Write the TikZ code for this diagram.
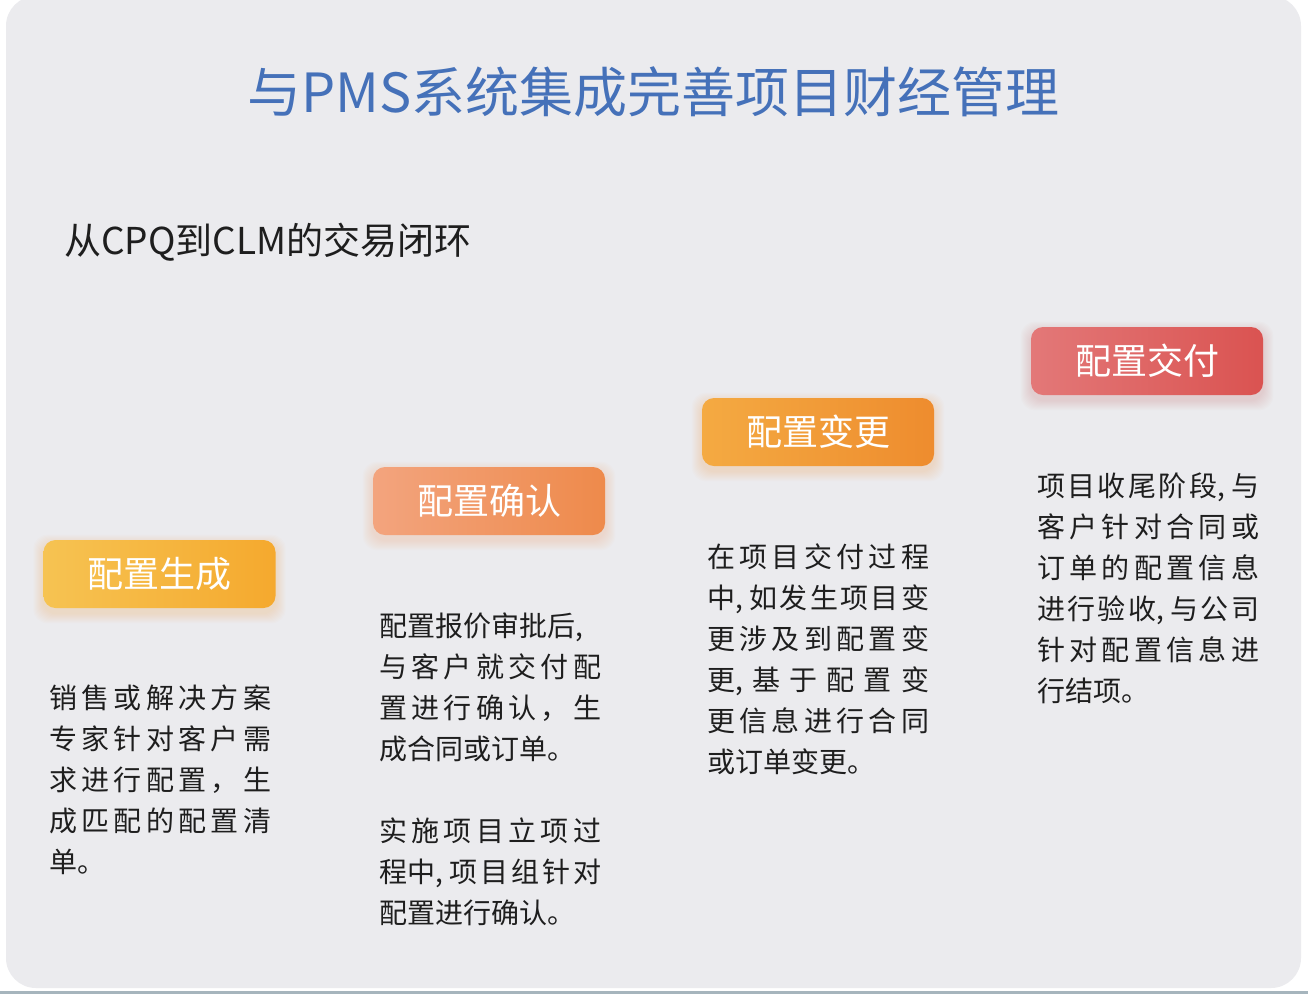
\documentclass[tikz,border=0pt]{standalone}
\usepackage{fontspec}
\setmainfont{Noto Sans CJK SC}
\usetikzlibrary{backgrounds}

\definecolor{cardgray}{HTML}{EBEBEE}
\definecolor{stripgray}{HTML}{A6B5BD}
\definecolor{titleblue}{HTML}{4571B9}
\definecolor{inkgray}{HTML}{1E1E1E}
\definecolor{genL}{HTML}{F6C352}
\definecolor{genR}{HTML}{F5A92E}
\definecolor{conL}{HTML}{F3A47E}
\definecolor{conR}{HTML}{EE8A4B}
\definecolor{chgL}{HTML}{F4AA42}
\definecolor{chgR}{HTML}{EE8C2E}
\definecolor{delL}{HTML}{E37878}
\definecolor{delR}{HTML}{DA5351}

% justified line of a text column
\newlength\colw
\setlength\colw{222pt}
\makeatletter
\newcommand\jline[1]{\makebox[\colw][s]{\jl@loop#1\jl@end}}
\def\jl@loop#1#2\jl@end{#1\ifx\relax#2\relax\else\hfil\jl@loop#2\jl@end\fi}
\makeatother

\begin{document}
\begin{tikzpicture}[x=1pt,y=-1pt,
  body/.style={font=\fontsize{28}{41}\selectfont, text=inkgray, inner sep=0pt, anchor=base west},
  stage/.style={minimum width=232pt, minimum height=68pt, rounded corners=12pt, inner sep=0pt,
    text=white, font=\fontsize{36}{40}\selectfont, text height=30pt, text depth=3pt},
  glow/.style={fill=#1, opacity=.018, rounded corners=14pt}]
  \useasboundingbox (0,0) rectangle (1308,994);
  \begin{scope}[on background layer]
    \fill[white] (0,0) rectangle (1308,994);
    \fill[cardgray, rounded corners=30pt] (6,-4) rectangle (1301,988);
    \fill[stripgray] (0,990.5) rectangle (1308,994);
  \end{scope}

  % headings
  \node[font=\fontsize{54}{60}\selectfont, text=titleblue, inner sep=0pt, anchor=base] (title) at (653.5,112.5) {与PMS系统集成完善项目财经管理};
  \node[font=\fontsize{37}{42}\selectfont, text=inkgray, inner sep=0pt, anchor=base west] (sub) at (64,254) {从CPQ到CLM的交易闭环};

  % the four stages
  \node[stage, left color=genL, right color=genR] (gen) at (159.5,574) {配置生成};
  \node[stage, left color=conL, right color=conR] (con) at (489,501) {配置确认};
  \node[stage, left color=chgL, right color=chgR] (chg) at (818,432) {配置变更};
  \node[stage, left color=delL, right color=delR] (del) at (1147,361) {配置交付};

  \begin{scope}[on background layer]
    \foreach \b/\c in {gen/genR, con/conR, chg/chgR, del/delR}
      \foreach \s in {1,...,10}
        \fill[glow=\c] ([shift={(-\s,5-\s)}]\b.north west) rectangle ([shift={(\s,5+\s)}]\b.south east);
  \end{scope}

  % texts under the stages
  \foreach \t [count=\i from 0] in {{\jline{销售或解决方案}}, {\jline{专家针对客户需}},
      {\jline{求进行配置，生}}, {\jline{成匹配的配置清}}, {单。}}
    \node[body] (gen-l\i) at (49,708+41*\i) {\t};

  \foreach \t [count=\i from 0] in {{配置报价审批后,}, {\jline{与客户就交付配}},
      {\jline{置进行确认，生}}, {成合同或订单。}}
    \node[body] (con-a\i) at (379,636+41*\i) {\t};
  \foreach \t [count=\i from 0] in {{\jline{实施项目立项过}}, {\jline{{程中,\kern4pt}项目组针对}},
      {配置进行确认。}}
    \node[body] (con-b\i) at (379,841+41*\i) {\t};

  \foreach \t [count=\i from 0] in {{\jline{在项目交付过程}}, {\jline{{中,\kern4pt}如发生项目变}},
      {\jline{更涉及到配置变}}, {\jline{{更,}基于配置变}}, {\jline{更信息进行合同}},
      {或订单变更。}}
    \node[body] (chg-l\i) at (707,567+41*\i) {\t};

  \foreach \t [count=\i from 0] in {{\jline{项目收尾阶{段,\kern4pt}与}}, {\jline{客户针对合同或}},
      {\jline{订单的配置信息}}, {\jline{进行验{收,\kern4pt}与公司}}, {\jline{针对配置信息进}},
      {行结项。}}
    \node[body] (del-l\i) at (1037,496+41*\i) {\t};
\end{tikzpicture}
\end{document}
